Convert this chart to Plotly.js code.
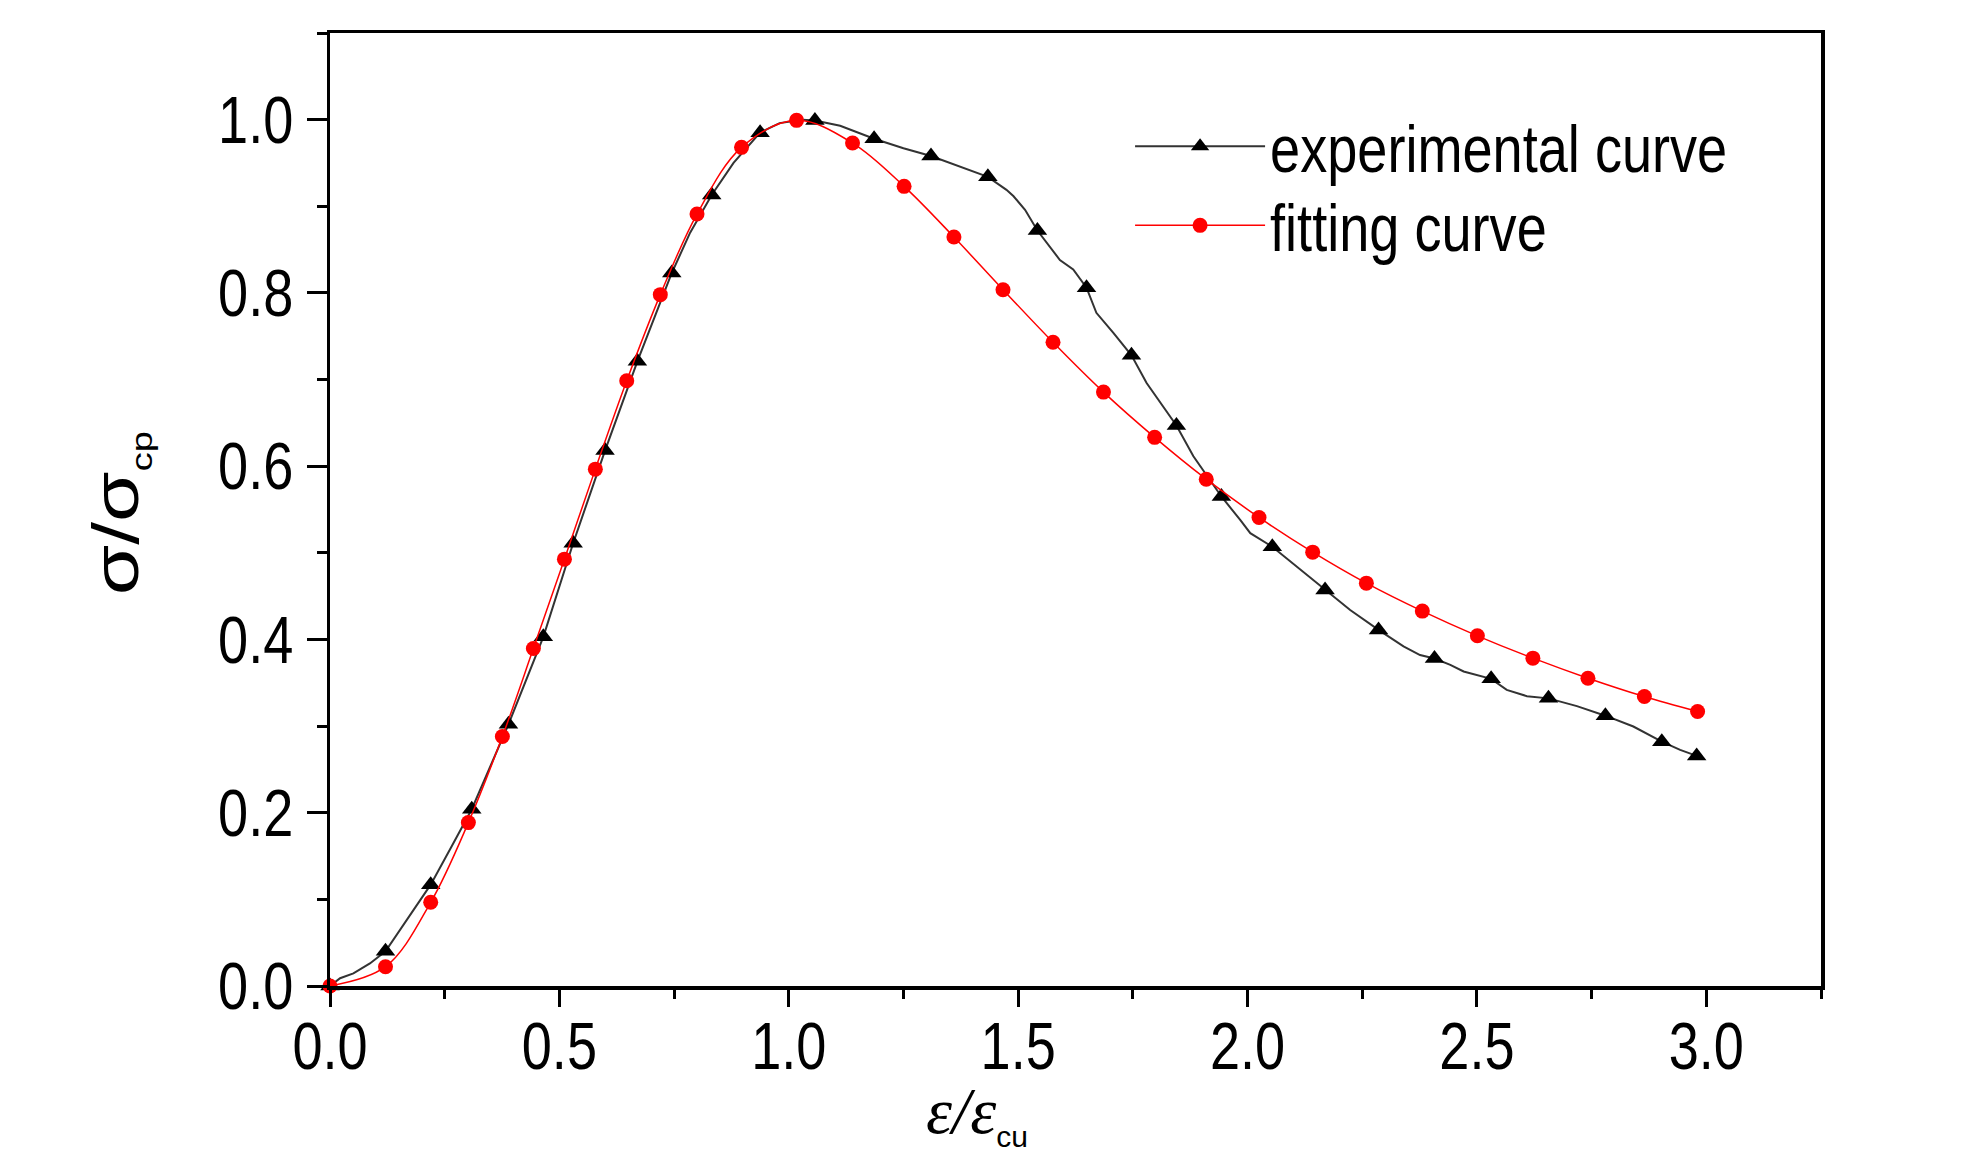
<!DOCTYPE html>
<html>
<head>
<meta charset="utf-8">
<script src="https://cdn.plot.ly/plotly-3.0.1.min.js"></script>
<style>
html,body{margin:0;padding:0;background:#fff;}
#chart{width:1984px;height:1157px;}
</style>
</head>
<body>
<div id="chart"></div>
<script>
// Experimental curve: traced line points
var expX = [0, 0.022, 0.051, 0.087, 0.121, 0.2195, 0.265, 0.309, 0.389, 0.465, 0.530, 0.5995, 0.670, 0.745, 0.785, 0.832, 0.8796, 0.9375, 0.98, 1.03, 1.057, 1.112, 1.186, 1.250, 1.310, 1.373, 1.434, 1.4745, 1.490, 1.515, 1.533, 1.542, 1.591, 1.620, 1.649, 1.6705, 1.708, 1.747, 1.780, 1.845, 1.882, 1.943, 1.984, 2.006, 2.054, 2.107, 2.169, 2.2237, 2.2855, 2.340, 2.376, 2.4075, 2.442, 2.471, 2.531, 2.565, 2.609, 2.656, 2.718, 2.780, 2.841, 2.903, 2.943, 2.979];
var expY = [0, 0.009, 0.0146, 0.026, 0.040, 0.117, 0.161, 0.204, 0.302, 0.403, 0.511, 0.618, 0.721, 0.823, 0.8695, 0.913, 0.950, 0.985, 0.996, 1.000, 0.999, 0.993, 0.978, 0.967, 0.958, 0.946, 0.934, 0.919, 0.9115, 0.896, 0.881, 0.872, 0.838, 0.827, 0.806, 0.777, 0.7537, 0.728, 0.696, 0.647, 0.6115, 0.565, 0.538, 0.5227, 0.507, 0.4842, 0.457, 0.434, 0.411, 0.392, 0.382, 0.378, 0.3707, 0.363, 0.3545, 0.3418, 0.3345, 0.332, 0.323, 0.312, 0.2995, 0.282, 0.2725, 0.2656];
// Experimental curve: marked points (triangles)
var expMarkX = [0, 0.121, 0.2195, 0.309, 0.389, 0.465, 0.530, 0.5995, 0.670, 0.745, 0.832, 0.9375, 1.057, 1.186, 1.310, 1.434, 1.542, 1.649, 1.747, 1.845, 1.943, 2.054, 2.169, 2.2855, 2.4075, 2.531, 2.656, 2.780, 2.903, 2.979];
var expMarkY = [0, 0.040, 0.117, 0.204, 0.302, 0.403, 0.511, 0.618, 0.721, 0.823, 0.913, 0.985, 0.999, 0.978, 0.958, 0.934, 0.872, 0.806, 0.728, 0.647, 0.565, 0.507, 0.457, 0.411, 0.378, 0.3545, 0.332, 0.312, 0.282, 0.2656];
// Fitting curve points (circles)
var fitX = [0, 0.121, 0.2195, 0.3016, 0.3757, 0.4433, 0.511, 0.5784, 0.6468, 0.720, 0.800, 0.897, 1.017, 1.139, 1.2514, 1.360, 1.467, 1.576, 1.686, 1.7975, 1.910, 2.025, 2.142, 2.259, 2.381, 2.501, 2.622, 2.742, 2.865, 2.981];
var fitY = [0, 0.0223, 0.0966, 0.1886, 0.2879, 0.3895, 0.4927, 0.5966, 0.6986, 0.798, 0.891, 0.968, 0.9992, 0.973, 0.923, 0.8645, 0.8037, 0.743, 0.6855, 0.6333, 0.585, 0.5408, 0.5008, 0.465, 0.4327, 0.4042, 0.3784, 0.3553, 0.3341, 0.3168];

var seriesNames = ['experimental curve', 'fitting curve'];
var xTitle = '<span style="font-family:Liberation Serif;font-style:italic">ε/ε</span><sub><span style="font-size:30px">cu</span></sub>';
var yTitle = 'σ/σ<sub><span style="font-size:38px">cp</span></sub>';

var sans = "'Liberation Sans', Arial, sans-serif";
var expColor = '#333333', fitColor = '#ff0000';

var traces = [
  {x: expX, y: expY, type: 'scatter', mode: 'lines', line: {color: expColor, width: 2}, showlegend: false, hoverinfo: 'skip'},
  {x: expMarkX, y: expMarkY, type: 'scatter', mode: 'markers', marker: {symbol: 'triangle-up', size: 17, color: '#000'}, showlegend: false, cliponaxis: false},
  {x: fitX, y: fitY, type: 'scatter', mode: 'lines+markers', line: {color: fitColor, width: 1.5, shape: 'spline', smoothing: 1}, marker: {symbol: 'circle', size: 15, color: fitColor}, showlegend: false, cliponaxis: false},
  {x: [null], y: [null], type: 'scatter', mode: 'lines+markers', name: seriesNames[0], legend: 'legend', line: {color: expColor, width: 2}, marker: {symbol: 'triangle-up', size: 16, color: '#000'}},
  {x: [null], y: [null], type: 'scatter', mode: 'lines+markers', name: seriesNames[1], legend: 'legend2', line: {color: fitColor, width: 1.5}, marker: {symbol: 'circle', size: 15, color: fitColor}}
];

var axisCommon = {
  showgrid: false, zeroline: false, showline: true, mirror: true,
  linecolor: '#000', linewidth: 3.5, ticks: 'outside', tickcolor: '#000', tickwidth: 3,
  tickfont: {family: sans, size: 66, color: '#000'}, tickformat: '.1f'
};
var legendCommon = {x: 0.5366, xanchor: 'left', yanchor: 'top', bgcolor: 'rgba(0,0,0,0)',
    font: {family: sans, size: 66, color: '#000'}, itemwidth: 130};

var layout = {
  width: 1984, height: 1157,
  margin: {l: 330, r: 163, t: 33, b: 171},
  paper_bgcolor: '#fff', plot_bgcolor: '#fff',
  xaxis: Object.assign({}, axisCommon, {range: [0, 3.25], tick0: 0, dtick: 0.5, ticklen: 17,
    minor: {dtick: 0.25, ticklen: 9, tickwidth: 3, tickcolor: '#000', ticks: 'outside', showgrid: false}}),
  yaxis: Object.assign({}, axisCommon, {range: [0, 1.1], tick0: 0, dtick: 0.2, ticklen: 20,
    minor: {dtick: 0.1, ticklen: 10, tickwidth: 3, tickcolor: '#000', ticks: 'outside', showgrid: false}}),
  showlegend: true,
  legend: Object.assign({}, legendCommon, {y: 0.933}),
  legend2: Object.assign({}, legendCommon, {y: 0.850}),
  annotations: [
    {xref: 'paper', yref: 'paper', x: 0.434, y: -0.1333, xanchor: 'center', yanchor: 'middle', showarrow: false,
     text: xTitle, font: {family: sans, size: 66, color: '#000'}},
    {xref: 'paper', yref: 'paper', x: -0.1422, y: 0.496, xanchor: 'center', yanchor: 'middle', showarrow: false,
     textangle: -90, text: yTitle, font: {family: sans, size: 82, color: '#000'}}
  ]
};

// Narrowing of text (the reference uses a condensed face); skips text already narrowed
function squeeze(sel, s, anchor, dir, dy) {
  document.querySelectorAll(sel).forEach(function (t) {
    var tr = t.getAttribute('transform') || '';
    if (tr.indexOf('scale(') !== -1) return;
    var b = t.getBBox();
    if (!b.width) return;
    var ax = anchor === 'end' ? b.x + b.width : (anchor === 'start' ? b.x : b.x + b.width / 2);
    var ay = b.y + b.height / 2;
    var sc = dir === 'y' ? 'scale(1,' + s + ')' : 'scale(' + s + ',1)';
    t.setAttribute('transform', tr + ' translate(0,' + (dy || 0) + ') translate(' + ax + ',' + ay + ') ' + sc + ' translate(' + (-ax) + ',' + (-ay) + ')');
  });
}
function narrowAll() {
  squeeze('.xtick text', 0.82, 'middle', 'x', -17);
  squeeze('.ytick text', 0.82, 'end', 'x', 0);
  squeeze('text.legendtext, text.legend2text', 0.82, 'start', 'x', 0);
  squeeze('.annotation[data-index="1"] text.annotation-text', 0.8, 'middle', 'y', 0);
}

var gd = document.getElementById('chart');
Plotly.newPlot(gd, traces, layout, {displayModeBar: false, staticPlot: true}).then(function () {
  narrowAll();
  setTimeout(narrowAll, 50);
});
</script>
</body>
</html>
